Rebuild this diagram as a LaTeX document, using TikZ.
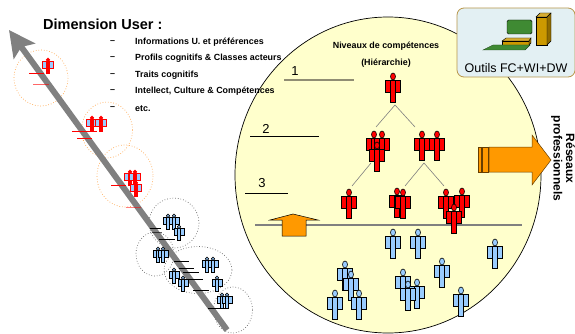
\documentclass[tikz,border=0pt]{standalone}
\usepackage{fontspec}
\setmainfont{Liberation Sans}
\usepackage{tikz}
\usetikzlibrary{arrows.meta}
\definecolor{persblue}{HTML}{99CCFF}
\definecolor{persorange}{HTML}{FF9900}
\definecolor{sphereyellow}{HTML}{FFFFCC}
\definecolor{toolbg}{HTML}{E3F0F3}
\definecolor{toolborder}{HTML}{B8964A}
\definecolor{toolgreen}{HTML}{3F8A33}
\definecolor{toolgold}{HTML}{CC9900}
\tikzset{
  listtext/.style={anchor=west, font=\bfseries\fontsize{8.9}{10}\selectfont, inner sep=0pt},
  leveltext/.style={font=\fontsize{13}{15}\selectfont, inner sep=0pt},
  treeline/.style={draw=gray, line width=.6pt},
  halo/.style={draw=orange!70, dotted, line width=.7pt},
  cluster/.style={draw=gray!80!black, dotted, line width=.7pt},
  redmark/.style={draw=red, line width=.7pt},
  blackmark/.style={draw=black, line width=.7pt}
}
% head top at (x,y): x, y, scaling, body colour, arm colour, outline
\newcommand{\person}[6]{
  \begin{scope}[shift={(#1,#2)}, #3]
    \draw [#6, fill=#5, line width=.6pt] (-7.5,7) rectangle (7.5,19);
    \draw [#6, fill=#4, line width=.6pt] (-2.5,7) rectangle (2.5,29);
    \draw [#6, fill=#4, line width=.6pt] (0,3.5) ellipse (2.5 and 3.5);
  \end{scope}
}
\newcommand{\redpers}[2]{\person{#1}{#2}{scale=1}{red}{red}{black}}
\newcommand{\bluepers}[2]{\person{#1}{#2}{scale=1}{persblue}{persblue}{black}}
\newcommand{\redsmall}[2]{\person{#1}{#2}{xscale=.7,yscale=.52}{red}{persblue}{red}}
\newcommand{\bluesmall}[2]{\person{#1}{#2}{xscale=.67,yscale=.53}{persblue}{persblue}{black}}
\begin{document}
\begin{tikzpicture}[x=1pt, y=-1pt]
\useasboundingbox (0,0) rectangle (575,334);

% big circle
\draw [black, fill=sphereyellow, line width=.7pt] (388,175) ellipse (153 and 158);

% title and list
\node [anchor=west, inner sep=0pt, font=\bfseries\fontsize{14.5}{16}\selectfont] (title) at (43,24) {Dimension User :};
\node [listtext] (dasha) at (110,42.5) {--};
\node [listtext] (dashb) at (110,58.5) {--};
\node [listtext] (dashc) at (110,75.5) {--};
\node [listtext] (dashd) at (110,91.5) {--};
\node [listtext] (dashe) at (110,108.5) {--};
\node [listtext] (infoa) at (135,42.5) {Informations U. et préférences};
\node [listtext] (infob) at (135,58.5) {Profils cognitifs \& Classes acteurs};
\node [listtext] (infoc) at (135,75.5) {Traits cognitifs};
\node [listtext] (infod) at (135,91.5) {Intellect, Culture \& Compétences};
\node [listtext] (infoe) at (135,108.5) {etc.};

% orange and grey circles on the left
\draw [halo] (41,78) ellipse (27 and 28);
\draw [halo] (107,130) ellipse (25.5 and 28);
\draw [halo] (125,176) ellipse (28 and 31);
\draw [cluster] (174,223) ellipse (25 and 25);
\draw [cluster] (155,254) ellipse (19 and 22);
\draw [cluster] (198,270) ellipse (34 and 23.5);
\draw [cluster] (233,310) ellipse (19.5 and 23);

% big arrow
\coordinate (axisend) at (227,330);
\coordinate (axistip) at (9,30);
\draw [-{Stealth[length=26pt, width=26pt, inset=5pt]}, draw=gray, fill=gray, line width=6pt] (axisend) -- (axistip);

% marks on the arrow
\draw [redmark] (29,73) -- (44,73);
\draw [redmark, opacity=.6] (33,84) -- (49,84);
\draw [redmark] (72,131) -- (97,131);
\draw [redmark] (77,138) -- (92,138);
\draw [redmark] (111,185) -- (126,185);
\draw [redmark, opacity=.5] (126,207) -- (141,207);
\draw [blackmark] (150,228) -- (161,228);
\draw [blackmark, opacity=.6] (152,232) -- (162,232);
\draw [blackmark] (159,239) -- (175,239);
\draw [blackmark] (174,261) -- (189,261);
\draw [blackmark] (179,268) -- (194,268);
\draw [blackmark] (183,272) -- (199,272);
\draw [blackmark] (183,279) -- (203,279);
\draw [blackmark] (193,290) -- (209,290);
\draw [blackmark] (208,308) -- (229,308);

% persons along the arrow
\redsmall{48}{58}
\redsmall{92}{116}
\redsmall{101}{116}
\redsmall{130}{170}
\redsmall{135}{170}
\redsmall{136}{181}
\bluesmall{168}{214}
\bluesmall{174}{214}
\bluesmall{179}{225}
\bluesmall{158}{247}
\bluesmall{163}{247}
\bluesmall{207}{257}
\bluesmall{213}{257}
\bluesmall{174}{268}
\bluesmall{183}{276}
\bluesmall{217}{276}
\bluesmall{222}{293}
\bluesmall{227}{293}

% levels
\node [leveltext] (levela) at (295,71) {1};
\node [leveltext] (levelb) at (266,129) {2};
\node [leveltext] (levelc) at (262,183) {3};
\draw [draw=gray!80!olive, line width=1.2pt] (284,80) -- (354,80);
\draw [black, line width=.7pt] (250,136) -- (319,136);
\draw [black, line width=.7pt] (245,193) -- (288,193);

% heading of the hierarchy
\node [font=\bfseries\fontsize{8.9}{10}\selectfont, inner sep=0pt] (niveaux) at (386,46) {Niveaux de compétences};
\node [font=\bfseries\fontsize{8.9}{10}\selectfont, inner sep=0pt] (hierar) at (386,63) {(Hiérarchie)};

% tree
\coordinate (treetop) at (395,105);
\coordinate (treeleft) at (376,127);
\coordinate (treeright) at (415,127);
\coordinate (subtopa) at (371,163);
\coordinate (subleft) at (352,186);
\coordinate (subtopb) at (424,163);
\coordinate (submid) at (405,186);
\coordinate (subright) at (444,186);
\draw [treeline] (treeleft) -- (treetop) -- (treeright);
\draw [treeline] (subtopa) -- (subleft);
\draw [treeline] (submid) -- (subtopb) -- (subright);

% grey line and up arrow
\coordinate (groundl) at (255,225);
\coordinate (groundr) at (522,225);
\draw [gray, line width=1.6pt] (groundl) -- (groundr);
\draw [black, fill=persorange, line width=.5pt] (293,214) -- (318,220) -- (306,220) -- (306,236) -- (282,236) -- (282,220) -- (270,220) -- cycle;

% right arrow
\draw [black!60!persorange, fill=persorange, line width=.5pt] (478,147) rectangle (481,172);
\draw [black!60!persorange, fill=persorange, line width=.5pt] (482.5,147) rectangle (488,172);
\draw [black!60!persorange, fill=persorange, line width=.5pt] (489,147) -- (532,147) -- (532,135) -- (551,160) -- (532,185) -- (532,172) -- (489,172) -- cycle;
\node [rotate=-90, align=center, inner sep=0pt, font=\bfseries\fontsize{12}{12.5}\selectfont] (reseaux) at (563,158.5) {Réseaux\\professionnels};

% hierarchy persons
\redpers{393}{73}
\redpers{374}{131}
\redpers{382}{131}
\redpers{377}{142}
\redpers{422}{131}
\redpers{437}{131}
\redpers{349}{189}
\redpers{397}{188}
\redpers{403}{189}
\redpers{446}{189}
\redpers{462}{188}
\redpers{454}{204}

% persons under the line
\bluepers{393}{229}
\bluepers{418}{229}
\bluepers{495}{239}
\bluepers{442}{258}
\bluepers{461}{287}
\bluepers{403}{269}
\bluepers{417}{279}
\bluepers{408}{281}
\bluepers{345}{261}
\bluepers{351}{271}
\bluepers{335}{290}
\bluepers{359}{290}

% tools box
\node [draw=toolborder, fill=toolbg, rounded corners=7pt, line width=.8pt, minimum width=118pt, minimum height=69pt, inner sep=0pt] (toolbox) at (516,42.5) {};
\node [font=\fontsize{12.5}{14}\selectfont, inner sep=0pt] (tooltext) at (516,68) {Outils FC+WI+DW};
\draw [black, fill=toolgreen, rounded corners=1.5pt, line width=.4pt] (507,20) rectangle (532,34);
\draw [black, fill=toolgold, line width=.4pt] (502,45) rectangle (529,41);
\draw [black, fill=toolgold!80!white, line width=.4pt] (502,41) -- (506,38) -- (531,38) -- (529,41) -- cycle;
\draw [black, fill=toolgold!70!black, line width=.4pt] (529,45) -- (531,43) -- (531,38) -- (529,41) -- cycle;
\draw [black!50!toolgreen, fill=toolgreen, line width=.4pt] (483,50) -- (525,50) -- (530,45) -- (493,45) -- cycle;
\draw [black, fill=toolgold, line width=.4pt] (536,17) rectangle (547,45);
\draw [black, fill=toolgold!80!white, line width=.4pt] (536,17) -- (540,13) -- (551,13) -- (547,17) -- cycle;
\draw [black, fill=toolgold!70!black, line width=.4pt] (547,17) -- (551,13) -- (551,41) -- (547,45) -- cycle;
\end{tikzpicture}
\end{document}
